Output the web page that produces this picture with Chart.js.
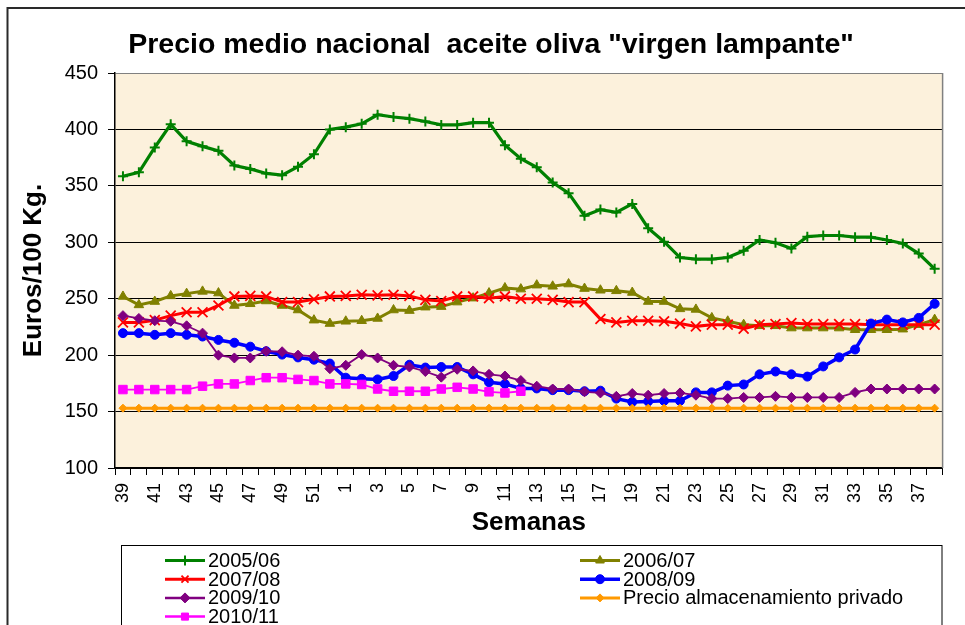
<!DOCTYPE html>
<html>
<head>
<meta charset="utf-8">
<script src="https://cdn.jsdelivr.net/npm/chart.js@4.4.1/dist/chart.umd.min.js"></script>
<style>
html,body{margin:0;padding:0;background:#fff;}
#wrap{width:965px;height:625px;position:relative;}
</style>
</head>
<body>
<div id="wrap"><canvas id="c" width="965" height="625"></canvas></div>
<script>
const FONT = "'Liberation Sans', Arial, Helvetica, sans-serif";
const TITLE = 'Precio medio nacional  aceite oliva "virgen lampante"';
const Y_TITLE = 'Euros/100 Kg.';
const X_TITLE = 'Semanas';

const weeks = [39,40,41,42,43,44,45,46,47,48,49,50,51,52,1,2,3,4,5,6,7,8,9,10,11,12,13,14,15,16,17,18,19,20,21,22,23,24,25,26,27,28,29,30,31,32,33,34,35,36,37,38];

const s0506 = [358.5,362,384,404.5,389.5,385,381,368,365,361,359.5,367,378,400,402,405,413,411,409.5,407,404,404,406,406,386,374,366.5,353,343.5,323.5,329,326.5,334,312.5,300.5,286.5,285,285,286.5,292.5,302,299.5,294.5,305,306,306,304.5,304.5,302,299,290,276.5];
const s0607 = [252,244.5,247.5,252.5,254.5,256.5,255,244,245.5,248,244,240,231,228,230,230.5,232.5,240,239.5,242.5,243,247,250.5,255,259.5,258.5,262,261,263,259,257.5,257,255.5,247.5,247.5,241,240.5,233,230,227,226,226,224,224,224,224,222.5,222.5,222.5,223,227,231.5];
const s0708 = [229,229,231,235,238,238,244,252,252.5,252,247,247,249.5,252,252.5,253.5,253,253.5,252.5,249,248,252,252,250.5,252,250,250,249,247,247,232,229,230.5,230.5,230,228,225.5,227,227,223.5,227,227.5,228.5,227.5,227.5,227.5,227.5,227,227,227,227,227];
const s0809 = [219.5,219.5,218,219.5,218,216.5,213.5,211,207.5,203.5,200.5,198,196,192.5,180,179,178.5,181.5,191.5,189,189.5,189.5,183,176,174.5,170.5,170.5,169,169,168,168.5,161.5,158.5,159,159.5,159.5,167,167,173,174,183,185.5,183,181,190,198,205,228,231.5,229,233,245.5];
const s0910 = [235,232.5,230.5,230,226,219.5,200,197.5,197.5,203.5,203,200,199,188,191,200.5,197.5,191,189.5,185.5,180.5,187.5,186,183,181.5,177.5,172.5,170,170,167.5,166.5,163.5,166,164.5,166,166.5,164.5,161.5,161.5,162.5,162.5,163.5,162.5,162.5,162.5,162.5,167,170,170,170,170,170];
const sAlmacen = [153,153,153,153,153,153,153,153,153,153,153,153,153,153,153,153,153,153,153,153,153,153,153,153,153,153,153,153,153,153,153,153,153,153,153,153,153,153,153,153,153,153,153,153,153,153,153,153,153,153,153,153];
const s1011 = [169.5,169.5,169.5,169.5,169.5,172.5,174.5,174.5,177.5,180,180,178.5,177.5,174.5,174.5,174,170,168,168,168,170,171.5,170,167.5,166.5,168,null,null,null,null,null,null,null,null,null,null,null,null,null,null,null,null,null,null,null,null,null,null,null,null,null,null];

const seriesLabels = ['2005/06','2006/07','2007/08','2008/09','2009/10','Precio almacenamiento privado','2010/11'];
const seriesData = [s0506,s0607,s0708,s0809,s0910,sAlmacen,s1011];
const seriesColors = ['#008000','#808000','#FF0000','#0000FF','#800080','#FF9900','#FF00FF'];
const seriesStyles = ['cross','triangle','crossRot','circle','rectRot','rectRot','rect'];
const seriesLineW = [3.2,3,3,3.5,1.8,3,1.8];
const seriesRadius = [5,5.5,7,4.5,5,4,6];
const seriesPointBW = [2,1,1.8,1,1,1,1];

const datasets = seriesLabels.map((lab,i)=>({
  label: lab,
  data: seriesData[i],
  borderColor: seriesColors[i],
  backgroundColor: seriesColors[i],
  pointBackgroundColor: seriesColors[i],
  pointBorderColor: seriesColors[i],
  borderWidth: seriesLineW[i],
  pointStyle: seriesStyles[i],
  pointRadius: seriesRadius[i],
  pointBorderWidth: seriesPointBW[i],
  tension: 0,
  fill: false,
  spanGaps: false,
  order: seriesLabels.length - i
}));

const framePlugin = {
  id: 'frame',
  beforeDraw(chart){
    const {ctx, chartArea:a} = chart;
    ctx.save();
    ctx.fillStyle = '#ffffff';
    ctx.fillRect(0,0,chart.width,chart.height);
    ctx.fillStyle = '#FCF1DC';
    ctx.fillRect(a.left, a.top, a.right-a.left, a.bottom-a.top);
    ctx.strokeStyle = '#2a2a2a';
    ctx.lineWidth = 2;
    ctx.strokeRect(7.5, 8, chart.width + 40, chart.height + 40);
    ctx.restore();
  },
  beforeDatasetsDraw(chart){
    const {ctx, chartArea:a} = chart;
    ctx.save();
    ctx.strokeStyle = '#808080';
    ctx.lineWidth = 1.5;
    ctx.beginPath();
    ctx.moveTo(a.right, a.top);
    ctx.lineTo(a.right, a.bottom);
    ctx.stroke();
    ctx.restore();
  }
};

const legendPlugin = {
  id: 'boxLegend',
  afterDraw(chart){
    const {ctx} = chart;
    ctx.save();
    ctx.strokeStyle = '#000';
    ctx.lineWidth = 1;
    ctx.strokeRect(121.5, 545.5, 820.5, 120);
    chart.data.datasets.forEach((ds,i)=>{
      const col = i % 2, row = Math.floor(i/2);
      const x0 = col === 0 ? 165 : 580;
      const y = 560.5 + row*18.7;
      ctx.strokeStyle = ds.borderColor;
      ctx.lineWidth = Math.max(ds.borderWidth, 2.5);
      ctx.beginPath();
      ctx.moveTo(x0, y); ctx.lineTo(x0+40, y);
      ctx.stroke();
      ctx.fillStyle = ds.pointBackgroundColor;
      ctx.strokeStyle = ds.pointBorderColor;
      ctx.lineWidth = ds.pointBorderWidth;
      Chart.helpers.drawPoint(ctx, {pointStyle: ds.pointStyle, radius: Math.min(ds.pointRadius, 5), rotation: 0, borderWidth: ds.pointBorderWidth}, x0+20, y);
      ctx.fillStyle = '#000';
      ctx.font = '20px ' + FONT;
      ctx.textAlign = 'left';
      ctx.textBaseline = 'middle';
      ctx.fillText(ds.label, x0+43, y+1);
    });
    ctx.restore();
  }
};

new Chart(document.getElementById('c'), {
  type: 'line',
  data: { labels: weeks, datasets },
  plugins: [framePlugin, legendPlugin],
  options: {
    responsive: false,
    animation: false,
    devicePixelRatio: 1,
    layout: { padding: { left: 39.4, right: 22.4, top: 0, bottom: 88 } },
    plugins: {
      legend: { display: false },
      tooltip: { enabled: false },
      title: {
        display: true, text: TITLE, color: '#000',
        font: { family: FONT, size: 28.5, weight: 'bold', lineHeight: 1.2 },
        padding: { top: 28.4, bottom: 10.4 }
      }
    },
    scales: {
      x: {
        type: 'category',
        offset: true,
        grid: { display: true, drawOnChartArea: false, drawTicks: true, tickLength: 7, offset: true, tickColor: '#000', tickWidth: 1 },
        border: { display: true, color: '#000', width: 1.5 },
        ticks: {
          autoSkip: false, minRotation: 90, maxRotation: 90, padding: 8, color: '#000',
          font: { family: FONT, size: 18 },
          callback: function(v, i){ return i % 2 === 0 ? String(this.getLabelForValue(v)) : ''; }
        },
        title: { display: true, text: X_TITLE, color: '#000', font: { family: FONT, size: 26, weight: 'bold', lineHeight: 1.2 }, padding: { top: 0, bottom: -1 } },
        afterFit(s){ s.height = 69; s.paddingLeft = 0; s.paddingRight = 0; }
      },
      y: {
        min: 100, max: 450,
        ticks: { stepSize: 50, padding: 10, color: '#000', font: { family: FONT, size: 20 } },
        grid: {
          color: (c) => (c.tick && c.tick.value === 450) ? '#808080' : '#000',
          lineWidth: 1, drawTicks: true, tickLength: 7, tickColor: '#000'
        },
        border: { display: true, color: '#000', width: 1.5 },
        title: { display: true, text: Y_TITLE, color: '#000', font: { family: FONT, size: 26, weight: 'bold', lineHeight: 1.2 }, padding: { top: -21, bottom: 0 } },
        afterFit(s){ s.width = 115 - 39.4; s.paddingTop = 0; s.paddingBottom = 0; }
      }
    }
  }
});
</script>
</body>
</html>
